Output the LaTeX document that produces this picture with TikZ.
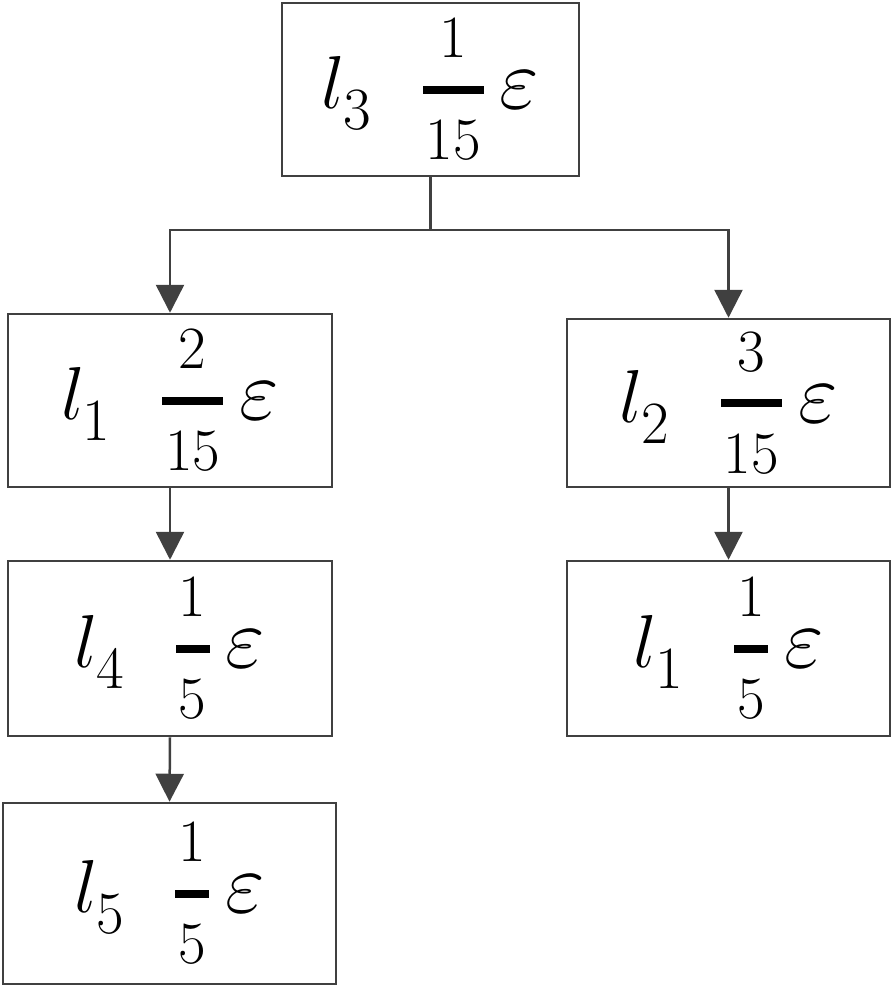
\RequirePackage{fix-cm}
\documentclass[tikz,border=0pt]{standalone}
\usepackage{amsmath}
\usetikzlibrary{arrows.meta}
\definecolor{linegray}{HTML}{404040}
\newcommand{\digfont}{\fontsize{60}{60}\selectfont}
\newcommand{\lab}[3]{$l_{\raisebox{-10pt}{\digfont #1}}\hspace{50pt}\genfrac{}{}{8pt}{0}{\mbox{\digfont\kern3pt#2\kern3pt}}{\mbox{\digfont\kern3pt#3\kern3pt}}\hspace{15pt}\mbox{\fontsize{86}{86}\selectfont$\varepsilon$}$}
\tikzset{
  box/.style={draw=linegray, line width=2.5pt, fill=white, inner sep=0pt, font=\fontsize{75}{90}\selectfont},
  conn/.style={draw=linegray, line width=2.5pt, -{Triangle[width=28pt,length=28pt]}},
  plain/.style={draw=linegray, line width=2.5pt}
}
\begin{document}
\begin{tikzpicture}[x=1pt,y=-1pt]
\path[use as bounding box] (0,0) rectangle (894,988);
\node[box, minimum width=297pt, minimum height=173pt] (top) at (430.5,89.5) {\lab{3}{1}{15}};
\node[box, minimum width=324pt, minimum height=173pt] (la) at (170,400.5) {\lab{1}{2}{15}};
\node[box, minimum width=323pt, minimum height=168pt] (ra) at (728.5,403) {\lab{2}{3}{15}};
\node[box, minimum width=324pt, minimum height=175pt] (lb) at (170,648.5) {\lab{4}{1}{5}};
\node[box, minimum width=323pt, minimum height=175pt] (rb) at (728.5,648.5) {\lab{1}{1}{5}};
\node[box, minimum width=333pt, minimum height=181pt] (lc) at (169.5,893.5) {\lab{5}{1}{5}};
\coordinate (split) at (430.5,230);
\draw[plain] (top.south) -- (split);
\draw[conn] (split) -| (la.north);
\draw[conn] (split) -| (ra.north);
\draw[conn] (la.south) -- (lb.north);
\draw[conn] (ra.south) -- (rb.north);
\draw[conn] (lb.south) -- (lc.north);
\end{tikzpicture}
\end{document}
